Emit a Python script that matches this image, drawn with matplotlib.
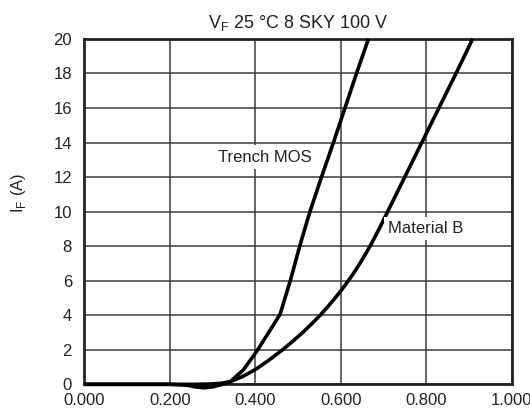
import matplotlib.pyplot as plt
import numpy as np

plt.rcParams['font.family'] = ['Liberation Sans', 'DejaVu Sans']

# Trench MOS curve (V, A)
trench_v = [0.000, 0.100, 0.200, 0.240, 0.260, 0.280, 0.300, 0.320, 0.341, 0.372,
            0.403, 0.430, 0.458, 0.482, 0.504, 0.528, 0.555, 0.583, 0.610, 0.637, 0.665]
trench_i = [0.00, 0.00, 0.00, -0.05, -0.15, -0.20, -0.15, -0.02, 0.15, 0.83,
            1.90, 2.95, 4.05, 6.00, 8.00, 10.0, 12.0, 14.0, 16.0, 18.0, 20.0]

# Material B curve (V, A)
matb_v = [0.000, 0.100, 0.200, 0.260, 0.300, 0.320, 0.341, 0.370, 0.400, 0.432,
          0.464, 0.488, 0.511, 0.532, 0.552, 0.570, 0.587, 0.603, 0.618, 0.632,
          0.645, 0.657, 0.669, 0.690, 0.710, 0.750, 0.790, 0.830, 0.870, 0.909]
matb_i = [0.00, 0.00, 0.00, 0.00, 0.02, 0.06, 0.15, 0.45, 0.85, 1.40,
          2.00, 2.50, 3.00, 3.50, 4.00, 4.50, 5.00, 5.50, 6.00, 6.50,
          7.00, 7.50, 8.00, 9.00, 10.0, 12.0, 14.0, 16.0, 18.0, 20.0]

xticks = [0.0, 0.2, 0.4, 0.6, 0.8, 1.0]
yticks = list(range(0, 21, 2))

fig = plt.figure(figsize=(5.3, 4.12), dpi=100)
ax = fig.add_axes([0.1594, 0.0672, 0.8057, 0.8384])

ax.plot(trench_v, trench_i, color='black', lw=2.6, solid_capstyle='butt',
        solid_joinstyle='round', zorder=3, clip_on=False)
ax.plot(matb_v, matb_i, color='black', lw=2.6, solid_capstyle='butt',
        solid_joinstyle='round', zorder=3, clip_on=False)

ax.set_xlim(0, 1.0)
ax.set_ylim(0, 20)
ax.set_xticks(xticks)
ax.set_xticklabels(['%.3f' % v for v in xticks])
ax.set_yticks(yticks)
ax.tick_params(axis='x', length=0, labelsize=12, pad=6, colors='#222222')
ax.tick_params(axis='y', length=0, labelsize=12, pad=9, colors='#222222')
ax.grid(True, color='#3a3a3a', lw=1.1)
ax.set_axisbelow(True)
for s in ax.spines.values():
    s.set_linewidth(2.0)
    s.set_color('#222222')

ax.set_title('V$_\\mathregular{F}$ 25 °C 8 SKY 100 V', fontsize=13, pad=8, color='#222222')
ax.set_ylabel('I$_\\mathregular{F}$ (A)', fontsize=12, color='#222222')
ax.yaxis.set_label_coords(-0.132, 0.554)

ax.text(0.423, 13.16, 'Trench MOS', fontsize=12, ha='center', va='center',
        color='#222222', bbox=dict(facecolor='white', edgecolor='none', pad=3))
ax.text(0.799, 9.02, 'Material B', fontsize=12, ha='center', va='center',
        color='#222222', bbox=dict(facecolor='white', edgecolor='none', pad=3))

fig.savefig('out.png', dpi=100)
